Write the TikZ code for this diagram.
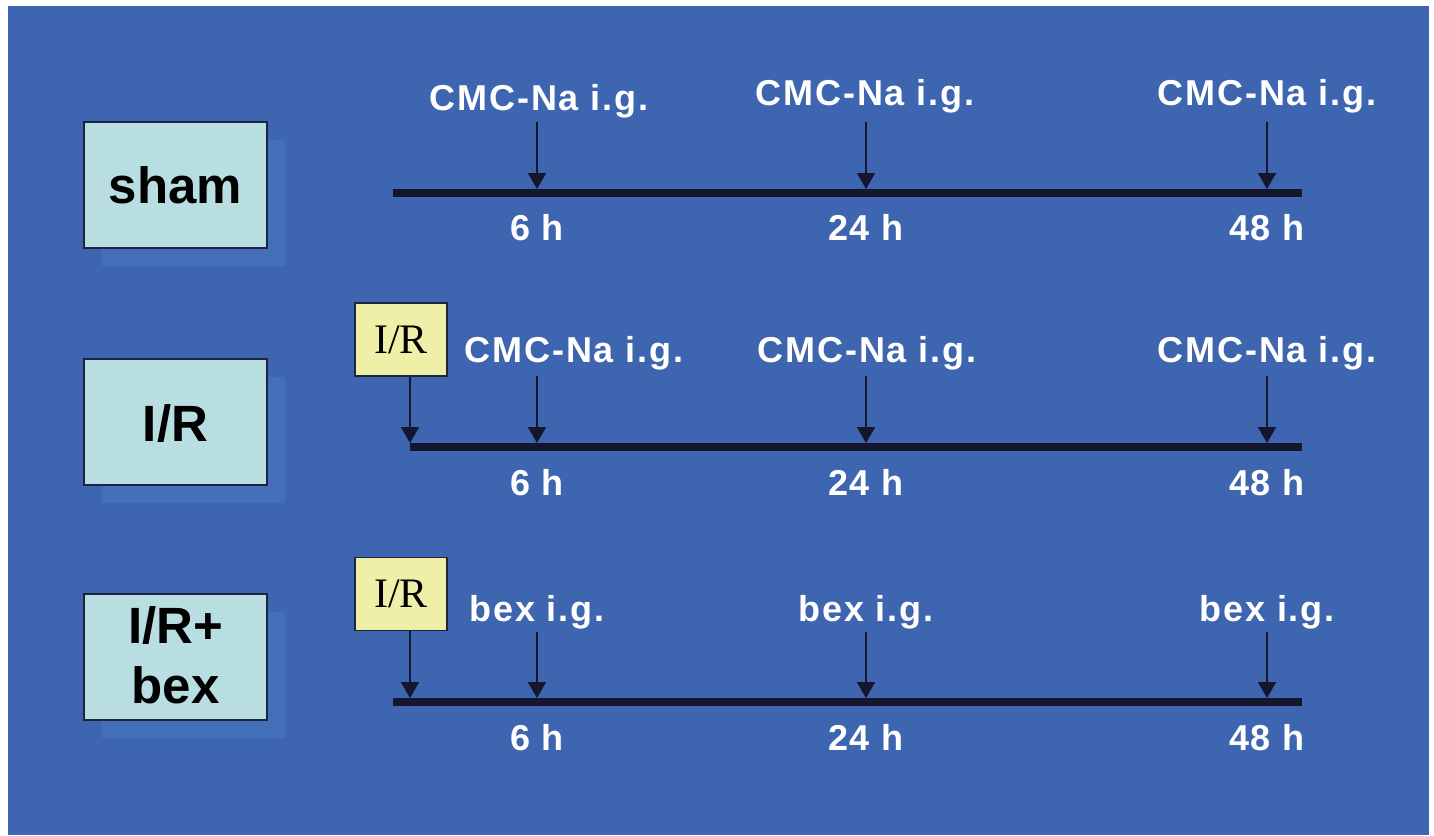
\documentclass[tikz,border=0pt]{standalone}
\usepackage{fontspec}
\setmainfont{Liberation Sans}
\newfontfamily\serifR{Liberation Serif}
\newfontfamily\lblfont[LetterSpace=5]{Liberation Sans}
\usetikzlibrary{arrows.meta}
\definecolor{bgblue}{HTML}{3E65AF}
\definecolor{shadowblue}{HTML}{4470B9}
\definecolor{boxcyan}{HTML}{B9DEE2}
\definecolor{boxyellow}{HTML}{EEF0A8}
\definecolor{linedark}{HTML}{15152E}
\definecolor{boxedge}{HTML}{1E2340}
\tikzset{
  grpbox/.style={draw=boxedge, line width=2pt, fill=boxcyan, minimum width=183pt, minimum height=126pt, inner sep=0pt},
  grpshadow/.style={fill=shadowblue, minimum width=183pt, minimum height=126pt, inner sep=0pt},
  grptext/.style={text=black, font=\fontsize{51}{52}\selectfont\bfseries, anchor=base, inner sep=0pt},
  irbox/.style={draw=boxedge, line width=1.5pt, fill=boxyellow, minimum width=92pt, minimum height=73pt, inner sep=0pt, font=\serifR\fontsize{42}{44}\selectfont, text=black},
  wlabel/.style={text=white, font=\lblfont\fontsize{36}{40}\selectfont\bfseries, anchor=base, inner sep=0pt},
  timeline/.style={draw=linedark, line width=8pt},
  dose/.style={draw=linedark, line width=1.8pt, -{Triangle[width=18pt,length=16pt]}}
}
\begin{document}
\begin{tikzpicture}[x=1pt,y=-1pt]
\useasboundingbox (0,0) rectangle (1434,835);
\fill[white] (0,0) rectangle (1434,835);
\fill[bgblue] (8,6) rectangle (1429,835);

% group boxes with shadows
\node[grpshadow] at (193.5,203) {};
\node[grpbox] (sham) at (175.5,185) {};
\node[grptext] (shamt) at (175.5,203) {sham};

\node[grpshadow] at (193.5,439.5) {};
\node[grpbox] (ir) at (175.5,421.5) {};
\node[grptext] (irt) at (175.5,441) {I/R};

\node[grpshadow] at (193.5,675) {};
\node[grpbox] (irb) at (175.5,657) {};
\node[grptext] (irbt1) at (175.5,643) {I/R+};
\node[grptext] (irbt2) at (175.5,703) {bex};

% timelines
\coordinate (l1a) at (393,193); \coordinate (l1b) at (1302,193);
\coordinate (l2a) at (410,447); \coordinate (l2b) at (1302,447);
\coordinate (l3a) at (393,702); \coordinate (l3b) at (1302,702);
\draw[timeline] (l1a) -- (l1b);
\draw[timeline] (l2a) -- (l2b);
\draw[timeline] (l3a) -- (l3b);

% I/R boxes
\node[irbox] (ir2) at (401,339.5) {I/R};
\node[irbox] (ir3) at (401,594) {I/R};
\coordinate (ir2e) at (410,443);
\coordinate (ir3e) at (410,698);
\draw[dose] (ir2.south -| ir2e) -- (ir2e);
\draw[dose] (ir3.south -| ir3e) -- (ir3e);

% dose arrows
\foreach \x/\n in {537/a,866/b,1267/c}{
  \coordinate (r1s\n) at (\x,122); \coordinate (r1e\n) at (\x,189);
  \draw[dose] (r1s\n) -- (r1e\n);
  \coordinate (r2s\n) at (\x,376); \coordinate (r2e\n) at (\x,443);
  \draw[dose] (r2s\n) -- (r2e\n);
  \coordinate (r3s\n) at (\x,632); \coordinate (r3e\n) at (\x,698);
  \draw[dose] (r3s\n) -- (r3e\n);
}
\node[wlabel] (t1a) at (539,110) {CMC-Na i.g.};
\node[wlabel] (t1b) at (865,105) {CMC-Na i.g.};
\node[wlabel] (t1c) at (1267,105) {CMC-Na i.g.};
\node[wlabel] (t2a) at (574,362) {CMC-Na i.g.};
\node[wlabel] (t2b) at (867,362) {CMC-Na i.g.};
\node[wlabel] (t2c) at (1267,362) {CMC-Na i.g.};
\node[wlabel] (t3a) at (537,621) {bex i.g.};
\node[wlabel] (t3b) at (866,621) {bex i.g.};
\node[wlabel] (t3c) at (1267,621) {bex i.g.};

% time labels
\foreach \r/\y in {1/240,2/495,3/750}{
  \node[wlabel] (h\r a) at (537,\y) {6 h};
  \node[wlabel] (h\r b) at (866,\y) {24 h};
  \node[wlabel] (h\r c) at (1267,\y) {48 h};
}
\end{tikzpicture}
\end{document}
